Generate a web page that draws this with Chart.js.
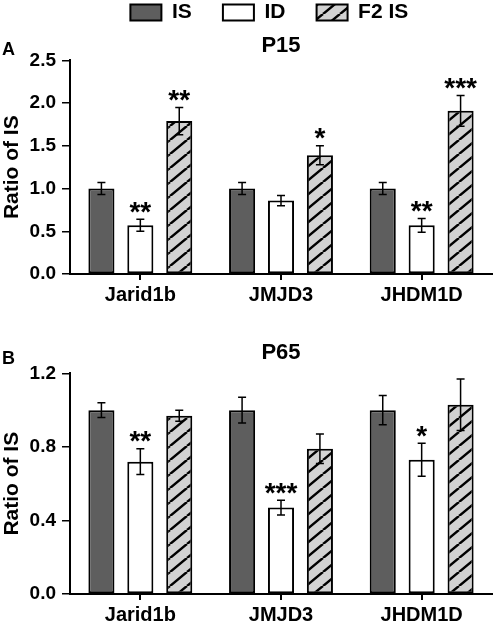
<!DOCTYPE html>
<html>
<head>
<meta charset="utf-8">
<script src="https://cdn.jsdelivr.net/npm/chart.js@4.4.1/dist/chart.umd.min.js"></script>
<style>
  html, body { margin: 0; padding: 0; background: #fff; overflow: hidden; }
  #wrap { position: relative; width: 497px; height: 625px; }
  canvas { position: absolute; left: 0; }
  #chartA { top: 0; }
  #chartB { top: 320px; }
  .panel { position: absolute; left: 2px; font: bold 18px "Liberation Sans", Arial, sans-serif; color: #000; }
</style>
</head>
<body>
<div id="wrap">
  <canvas id="chartA" width="497" height="310"></canvas>
  <canvas id="chartB" width="497" height="310"></canvas>
  <div class="panel" style="top:39px">A</div>
  <div class="panel" style="top:348px">B</div>
</div>
<script>
// categories and series
const genes = ['Jarid1b', 'JMJD3', 'JHDM1D'];
const seriesNames = ['IS', 'ID', 'F2 IS'];

// P15 (panel A)
const p15IS = [1.00, 1.00, 1.00];
const p15ISErr = [0.07, 0.07, 0.07];
const p15ID = [0.57, 0.86, 0.57];
const p15IDErr = [0.07, 0.06, 0.08];
const p15F2 = [1.79, 1.39, 1.91];
const p15F2Err = [0.16, 0.11, 0.18];
const p15Stars = [['', '', ''], ['**', '', '**'], ['**', '*', '***']];
const p15Max = 2.5, p15Step = 0.5;

// P65 (panel B)
const p65IS = [1.00, 1.00, 1.00];
const p65ISErr = [0.04, 0.07, 0.08];
const p65ID = [0.72, 0.47, 0.73];
const p65IDErr = [0.07, 0.04, 0.09];
const p65F2 = [0.97, 0.79, 1.03];
const p65F2Err = [0.03, 0.08, 0.14];
const p65Stars = [['', '', ''], ['**', '***', '*'], ['', '', '']];
const p65Max = 1.2, p65Step = 0.4;

const FONT = '"Liberation Sans", Arial, sans-serif';
Chart.defaults.font.family = FONT;
Chart.defaults.font.weight = 'bold';
Chart.defaults.color = '#000';

function hatch() {
    const c = document.createElement('canvas');
    c.width = 17; c.height = 14;
    const g = c.getContext('2d');
    g.fillStyle = '#d2d2d2';
    g.fillRect(0, 0, 17, 14);
    g.strokeStyle = '#000';
    g.lineWidth = 2.5;
    g.beginPath();
    g.moveTo(-17, 14); g.lineTo(0, 0);
    g.moveTo(0, 14); g.lineTo(17, 0);
    g.moveTo(17, 14); g.lineTo(34, 0);
    g.stroke();
    return g.createPattern(c, 'repeat');
}
const hatchFill = hatch();
const fills = ['#5e5e5e', '#ffffff', hatchFill];

// error bars and significance stars, placed through the y scale
const errStars = {
    id: 'errStars',
    afterDatasetsDraw(chart) {
        const ctx = chart.ctx;
        const y = chart.scales.y;
        ctx.save();
        chart.data.datasets.forEach((ds, i) => {
            const meta = chart.getDatasetMeta(i);
            meta.data.forEach((bar, j) => {
                const v = ds.data[j], e = ds.errors[j];
                const yt = y.getPixelForValue(v + e);
                const yb = y.getPixelForValue(v - e);
                ctx.strokeStyle = '#000';
                ctx.lineWidth = 1.5;
                ctx.beginPath();
                ctx.moveTo(bar.x, yt); ctx.lineTo(bar.x, yb);
                ctx.moveTo(bar.x - 4, yt); ctx.lineTo(bar.x + 4, yt);
                ctx.moveTo(bar.x - 4, yb); ctx.lineTo(bar.x + 4, yb);
                ctx.stroke();
                const s = ds.stars[j];
                if (s) {
                    ctx.fillStyle = '#000';
                    ctx.font = 'bold 28px ' + FONT;
                    ctx.textAlign = 'center';
                    ctx.textBaseline = 'alphabetic';
                    ctx.fillText(s, bar.x, yt - 14 + 0.55 * 28);
                }
            });
        });
        ctx.restore();
    }
};

function makeChart(id, title, vals, errs, stars, yMax, yStep, withLegend, titlePad) {
    const datasets = seriesNames.map((name, i) => ({
        label: name,
        data: vals[i],
        errors: errs[i],
        stars: stars[i],
        backgroundColor: fills[i],
        borderColor: '#000',
        borderWidth: 2,
        borderSkipped: false,
        categoryPercentage: 0.83,
        barPercentage: 0.67
    }));
    const legendSpaces = ['     ', '     ', '    '];
    return new Chart(document.getElementById(id), {
        type: 'bar',
        data: { labels: genes, datasets },
        options: {
            responsive: false,
            animation: false,
            layout: { padding: { top: 0, right: 5, left: 0, bottom: 0 } },
            plugins: {
                legend: {
                    display: withLegend,
                    position: 'top',
                    fullSize: false,
                    weight: 3000,
                    labels: {
                        boxWidth: 31,
                        boxHeight: 16,
                        padding: 2,
                        font: { size: 21, weight: 'bold' },
                        color: '#000',
                        generateLabels(chart) {
                            return Chart.defaults.plugins.legend.labels.generateLabels(chart)
                                .map((l, i) => Object.assign(l, { text: l.text + legendSpaces[i] }));
                        }
                    }
                },
                title: {
                    display: true,
                    text: title,
                    fullSize: false,
                    color: '#000',
                    font: { size: 22, weight: 'bold' },
                    padding: titlePad
                },
                tooltip: { enabled: false }
            },
            scales: {
                x: {
                    grid: { display: true, drawOnChartArea: false, offset: false, color: '#000', lineWidth: 2, tickLength: 6 },
                    border: { display: true, color: '#000', width: 2 },
                    ticks: { font: { size: 20, weight: 'bold' }, color: '#000', padding: 3 },
                    afterFit(scale) { scale.height = 36; }
                },
                y: {
                    min: 0,
                    max: yMax,
                    ticks: {
                        stepSize: yStep,
                        font: { size: 19, weight: 'bold' },
                        color: '#000',
                        padding: 6,
                        callback: v => v.toFixed(1)
                    },
                    grid: { display: true, drawOnChartArea: false, color: '#000', lineWidth: 1.5, tickLength: 8 },
                    border: { display: true, color: '#000', width: 2 },
                    title: {
                        display: true,
                        text: 'Ratio of IS',
                        color: '#000',
                        font: { size: 21, weight: 'bold' },
                        padding: { top: 0, bottom: 0 }
                    },
                    afterFit(scale) { scale.width = 70; }
                }
            }
        },
        plugins: [errStars]
    });
}

makeChart('chartA', 'P15',
    [p15IS, p15ID, p15F2], [p15ISErr, p15IDErr, p15F2Err], p15Stars,
    p15Max, p15Step, true, { top: 0, bottom: 1 });

makeChart('chartB', 'P65',
    [p65IS, p65ID, p65F2], [p65ISErr, p65IDErr, p65F2Err], p65Stars,
    p65Max, p65Step, false, { top: 20, bottom: 7 });
</script>
</body>
</html>
